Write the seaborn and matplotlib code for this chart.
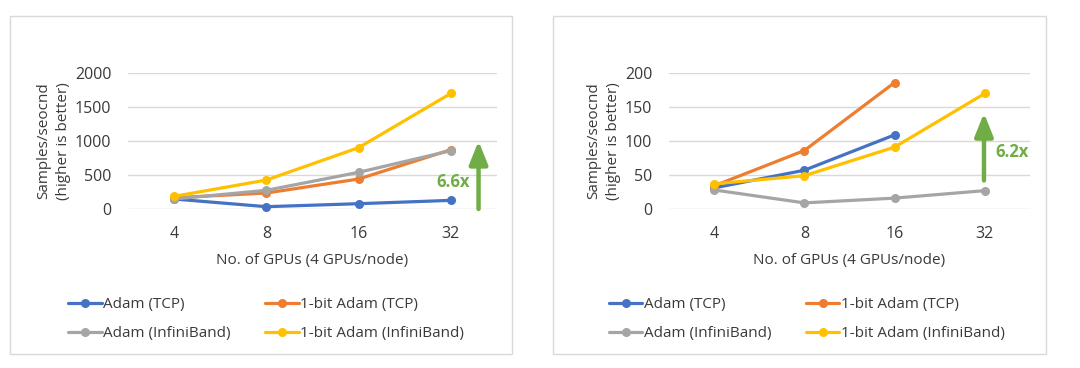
import numpy as np
import pandas as pd
import matplotlib
matplotlib.use("Agg")
import matplotlib.pyplot as plt
import seaborn as sns
from matplotlib.patches import Rectangle

# ---- data ----
gpus = ["4", "8", "16", "32"]
series = ["Adam (TCP)", "1-bit Adam (TCP)", "Adam (InfiniBand)", "1-bit Adam (InfiniBand)"]

left_adam_tcp = [147, 34, 78, 127]
left_1bit_tcp = [165, 235, 441, 872]
left_adam_ib = [147, 275, 539, 858]
left_1bit_ib = [186, 426, 902, 1700]

right_adam_tcp = [31, 57, 109, np.nan]
right_1bit_tcp = [34, 86, 186, np.nan]
right_adam_ib = [28, 9, 16, 27]
right_1bit_ib = [37, 49, 91, 170]

left_ticks = [0, 500, 1000, 1500, 2000]
right_ticks = [0, 50, 100, 150, 200]

colors = ["#4472C4", "#ED7D31", "#A5A5A5", "#FFC000"]
green = "#70AD47"

sns.set_theme(style="white")
plt.rcParams["font.family"] = ["Open Sans", "DejaVu Sans"]
text_color = "#3A3A3A"


def long_df(vals):
    rows = []
    for s, v in zip(series, vals):
        for g, y in zip(gpus, v):
            rows.append({"GPUs": g, "value": y, "series": s})
    return pd.DataFrame(rows).dropna()


fig = plt.figure(figsize=(10.8, 3.68), dpi=100)

# panel borders
for (x0, x1) in [(10, 512), (553, 1046)]:
    fig.patches.append(Rectangle((x0 / 1080, 14 / 368), (x1 - x0) / 1080, 338 / 368,
                                 transform=fig.transFigure, fill=False,
                                 edgecolor="#D9D9D9", lw=1.0))

ax1 = fig.add_axes([128 / 1080, 159 / 368, 369 / 1080, 136 / 368])
ax2 = fig.add_axes([669 / 1080, 159 / 368, 361 / 1080, 136 / 368])

configs = [
    (ax1, [left_adam_tcp, left_1bit_tcp, left_adam_ib, left_1bit_ib], left_ticks,
     dict(x=3.3, y0=0, y1=1000, tx=3.02, ty=390, label="6.6x"), -0.20),
    (ax2, [right_adam_tcp, right_1bit_tcp, right_adam_ib, right_1bit_ib], right_ticks,
     dict(x=2.99, y0=42, y1=141, tx=3.3, ty=84, label="6.2x"), -0.205),
]

for ax, vals, ticks, arr, legx in configs:
    df = long_df(vals)
    for s, c in zip(series, colors):
        sub = df[df["series"] == s]
        sns.lineplot(data=sub, x="GPUs", y="value", ax=ax, color=c,
                     marker="o", markersize=6.5, markeredgewidth=0, lw=2.3,
                     label=s, clip_on=False, sort=False)
    ax.set_xticks(range(len(gpus)))
    ax.set_xticklabels(gpus)
    ax.set_xlim(-0.5, 3.5)
    ax.set_ylim(ticks[0], ticks[-1])
    ax.set_yticks(ticks)
    ax.grid(axis="y", color="#D9D9D9", lw=1.0)
    ax.grid(axis="x", visible=False)
    ax.set_axisbelow(True)
    for sp in ax.spines.values():
        sp.set_visible(False)
    ax.tick_params(axis="y", length=0, pad=12, labelsize=11.5, labelcolor=text_color)
    ax.tick_params(axis="x", length=0, pad=12, labelsize=11.5, labelcolor=text_color)
    ax.set_xlabel("No. of GPUs (4 GPUs/node)", fontsize=11, color=text_color, labelpad=8)
    ax.set_ylabel("Samples/seocnd\n(higher is better)", fontsize=11, color=text_color,
                  labelpad=2.5, linespacing=1.45)

    ax.annotate("", xy=(arr["x"], arr["y1"]), xytext=(arr["x"], arr["y0"]),
                arrowprops=dict(arrowstyle="-|>,head_width=0.4,head_length=1.0",
                                color=green, lw=3.2, shrinkA=0, shrinkB=0,
                                mutation_scale=14))
    ax.text(arr["tx"], arr["ty"], arr["label"], color=green, fontsize=12,
            fontweight="bold", ha="center", va="center")

    h, l = ax.get_legend_handles_labels()
    order = [0, 2, 1, 3]
    ax.legend([h[i] for i in order], [l[i] for i in order], ncol=2, frameon=False,
              loc="upper left", bbox_to_anchor=(legx, -0.545), fontsize=11,
              handlelength=2.2, handletextpad=0.1, columnspacing=2.25,
              labelspacing=0.95, labelcolor=text_color)

fig.savefig("out.png", dpi=100)
